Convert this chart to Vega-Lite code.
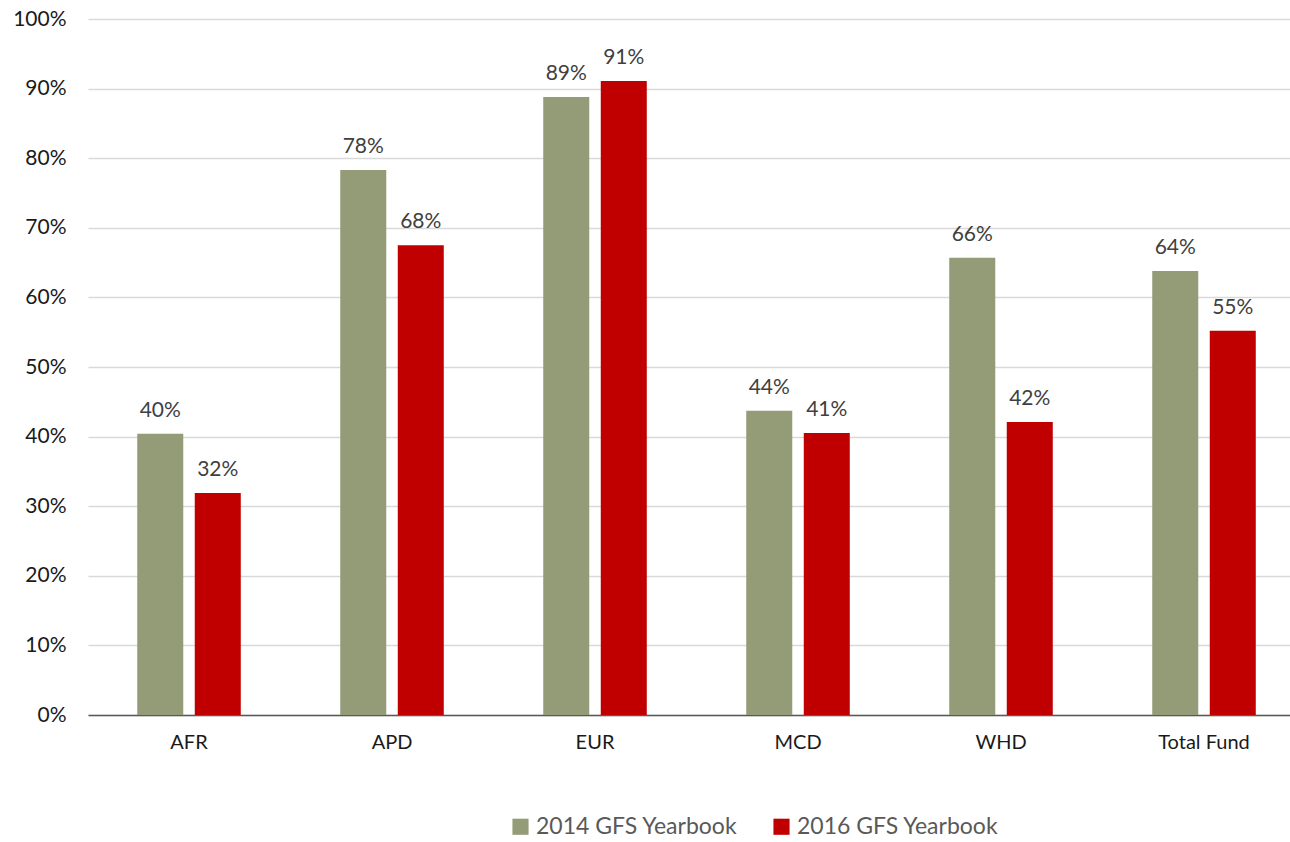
{
  "$schema": "https://vega.github.io/schema/vega-lite/v6.json",
  "width": 1202,
  "height": 696,
  "autosize": {"type": "none"},
  "padding": {"left": 88, "top": 19, "right": 0, "bottom": 127},
  "background": "white",
  "config": {"view": {"stroke": null}, "font": "Lato"},
  "data": {
    "values": [
      {"region": "AFR", "series": "2014 GFS Yearbook", "value": 0.404},
      {"region": "AFR", "series": "2016 GFS Yearbook", "value": 0.319},
      {"region": "APD", "series": "2014 GFS Yearbook", "value": 0.783},
      {"region": "APD", "series": "2016 GFS Yearbook", "value": 0.675},
      {"region": "EUR", "series": "2014 GFS Yearbook", "value": 0.888},
      {"region": "EUR", "series": "2016 GFS Yearbook", "value": 0.911},
      {"region": "MCD", "series": "2014 GFS Yearbook", "value": 0.437},
      {"region": "MCD", "series": "2016 GFS Yearbook", "value": 0.405},
      {"region": "WHD", "series": "2014 GFS Yearbook", "value": 0.657},
      {"region": "WHD", "series": "2016 GFS Yearbook", "value": 0.421},
      {"region": "Total Fund", "series": "2014 GFS Yearbook", "value": 0.638},
      {"region": "Total Fund", "series": "2016 GFS Yearbook", "value": 0.552}
    ]
  },
  "encoding": {
    "x": {
      "field": "region", "type": "nominal", "sort": null,
      "scale": {"paddingInner": 0.49, "paddingOuter": 0.2056, "align": 0.59},
      "axis": {"title": null, "labelAngle": 0, "ticks": false, "labelFontSize": 20, "labelColor": "#1a1a1a", "labelPadding": 17, "domainColor": "#595959", "domainWidth": 1.5, "grid": false}
    },
    "xOffset": {"field": "series", "type": "nominal", "scale": {"paddingInner": 0.2, "paddingOuter": 0}},
    "y": {
      "field": "value", "type": "quantitative",
      "scale": {"domain": [0, 1], "nice": false},
      "axis": {"title": null, "format": ".0%", "values": [0,0.1,0.2,0.3,0.4,0.5,0.6,0.7,0.8,0.9,1], "labelOverlap": false, "ticks": false, "domain": false, "labelFontSize": 21, "labelColor": "#1a1a1a", "labelPadding": 22, "gridColor": "#d9d9d9", "gridWidth": 1.5}
    }
  },
  "layer": [
    {
      "mark": {"type": "bar"},
      "encoding": {
        "color": {
          "field": "series", "type": "nominal",
          "scale": {"domain": ["2014 GFS Yearbook", "2016 GFS Yearbook"], "range": ["#949b77", "#c00000"]},
          "legend": {"title": null, "orient": "none", "legendX": 421, "legendY": 796, "direction": "horizontal", "symbolType": "square", "symbolSize": 260, "symbolStrokeWidth": 0, "symbolOpacity": 1, "labelFontSize": 23, "labelLimit": 400, "labelColor": "#595959", "columnPadding": 32, "labelOffset": 4}
        }
      }
    },
    {
      "mark": {"type": "text", "baseline": "bottom", "dy": -13, "fontSize": 21, "color": "#404040"},
      "encoding": {
        "text": {"field": "value", "type": "quantitative", "format": ".0%"}
      }
    }
  ]
}
